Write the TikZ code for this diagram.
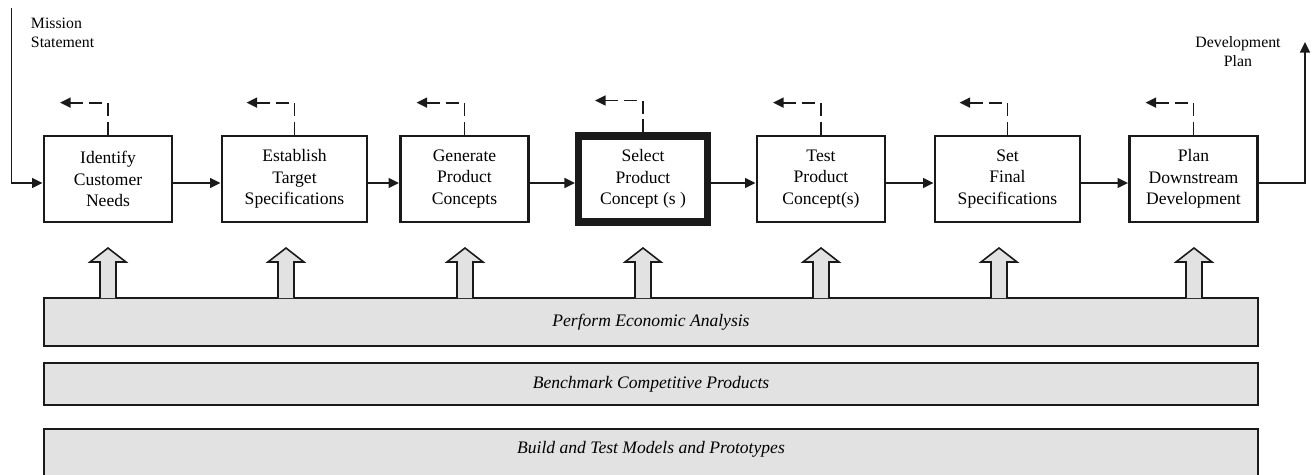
\documentclass[tikz,border=0pt]{standalone}
\usepackage{fontspec}
\setmainfont{Liberation Serif}
\usetikzlibrary{arrows.meta}
\usetikzlibrary{positioning}
\definecolor{hellgrau}{RGB}{226,226,226}
\definecolor{linie}{RGB}{26,26,26}

\begin{document}
\begin{tikzpicture}[x=0.02cm, y=-0.02cm, linie, line width=1.1pt,
	>={Triangle[length=6pt,width=5.6pt]},
	schritt/.style={draw, line width=1.6pt, minimum width=2.56cm, minimum height=1.72cm,
		inner sep=0pt, align=center, text=black, font=\fontsize{10}{12.3}\selectfont},
	breit/.style={minimum width=2.9cm},
	auswahl/.style={line width=4pt, minimum width=2.58cm},
	rueck/.style={->, dash pattern=on 7.4pt off 3.4pt},
	balken/.style={draw, fill=hellgrau, line width=1pt, minimum width=24.28cm, inner sep=0pt},
	balkentext/.style={text=black, inner sep=0pt, font=\fontsize{10}{12}\selectfont\itshape},
	hebel/.style={draw, fill=hellgrau, line width=0.9pt, line join=miter},
	notiz/.style={text=black, inner sep=0pt, font=\fontsize{9}{10.8}\selectfont}]

	\useasboundingbox (0,0) rectangle (1313,474);

	\node[schritt] (b1) at (108,179) {Identify\\Customer\\Needs};
	\node[schritt, breit] (b2) at (294.5,179) {Establish\\Target\\Specifications};
	\node[schritt] (b3) at (464.5,179) {Generate\\Product\\Concepts};
	\node[schritt, auswahl] (b4) at (643,179) {Select\\Product\\Concept (s )};
	\node[schritt] (b5) at (821,179) {Test\\Product\\Concept(s)};
	\node[schritt, breit] (b6) at (1007.5,179) {Set\\Final\\Specifications};
	\node[schritt] (b7) at (1193.5,179) {Plan\\Downstream\\Development};

	\node[notiz, anchor=north west, align=left] (mission) at (30,17) {Mission\\Statement};
	\node[notiz, anchor=north, align=center] (plan) at (1238,36) {Development\\Plan};
	\coordinate (start) at (11.5,8);
	\coordinate (ziel) at (1305,42);

	\draw[->] (start) |- ([yshift=-0.08cm]b1.west);
	\foreach \a/\b in {b1/b2, b2/b3, b3/b4, b4/b5, b5/b6, b6/b7}
		\draw[->] ([yshift=-0.08cm]\a.east) -- ([yshift=-0.08cm]\b.west);
	\draw[->] ([yshift=-0.08cm]b7.east) -| (ziel);

	\foreach \b in {b1,b2,b3,b4,b5,b6,b7}
		\draw[rueck] (\b.north) |- ++(-48,-32);

	\node[balken, minimum height=0.96cm] (bar1) at (651,322) {};
	\node[balken, minimum height=0.84cm] (bar2) at (651,384) {};
	\node[balken, minimum height=1.3cm, anchor=north] (bar3) at (651,428) {};
	\node[balkentext] (t1) at (bar1) {Perform Economic Analysis};
	\node[balkentext] (t2) at (bar2) {Benchmark Competitive Products};
	\node[balkentext, below=0.25cm of bar3.north] (t3) {Build and Test Models and Prototypes};

	\foreach \px in {108,286,465,643,821,999,1194}
		\draw[hebel] (\px-8,298) -- (\px-8,262) -- (\px-18,262) -- (\px,248)
			-- (\px+18,262) -- (\px+8,262) -- (\px+8,298);

\end{tikzpicture}
\end{document}
